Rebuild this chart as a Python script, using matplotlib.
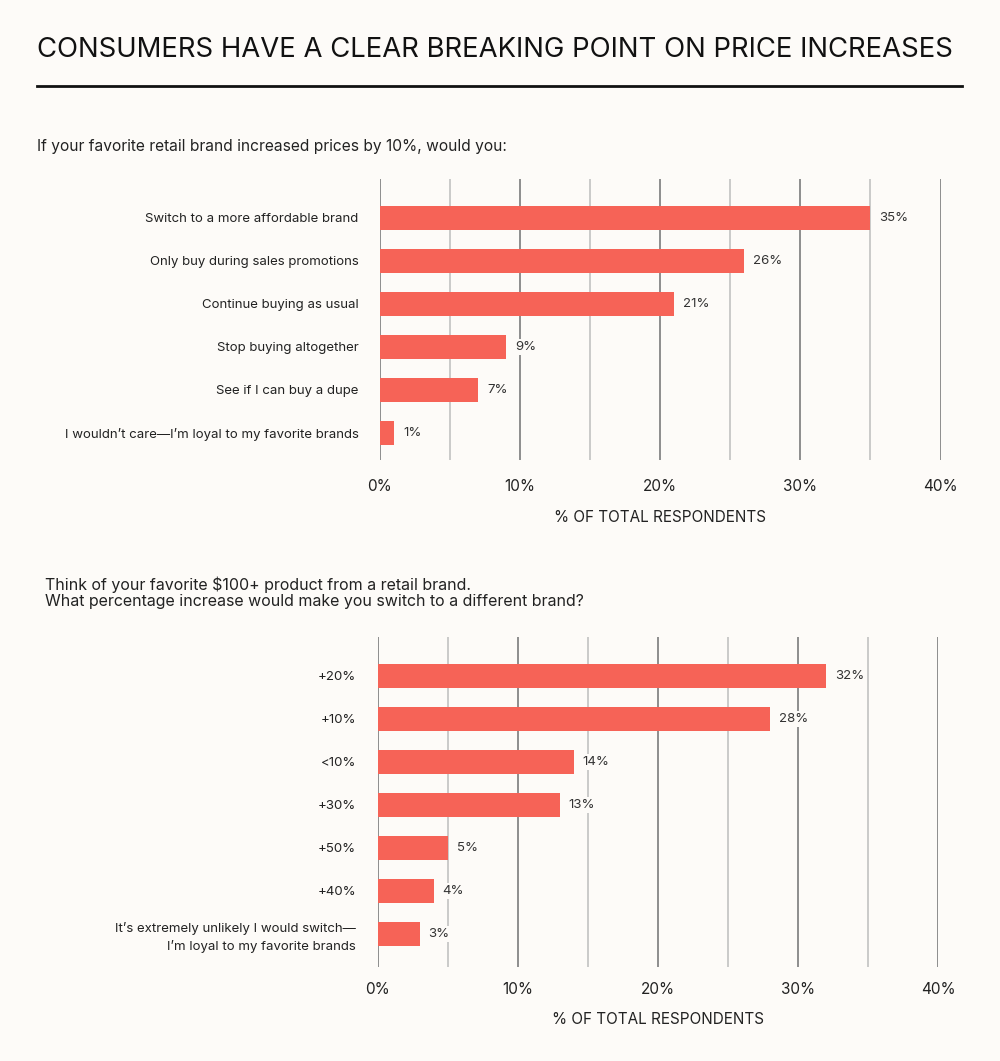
import matplotlib.pyplot as plt
from matplotlib import font_manager

# --- data -----------------------------------------------------------------
q1_labels = [
    "Switch to a more affordable brand",
    "Only buy during sales promotions",
    "Continue buying as usual",
    "Stop buying altogether",
    "See if I can buy a dupe",
    "I wouldn\u2019t care\u2014I\u2019m loyal to my favorite brands",
]
q1_values = [35, 26, 21, 9, 7, 1]

q2_labels = [
    "+20%",
    "+10%",
    "<10%",
    "+30%",
    "+50%",
    "+40%",
    "It\u2019s extremely unlikely I would switch\u2014\nI\u2019m loyal to my favorite brands",
]
q2_values = [32, 28, 14, 13, 5, 4, 3]

x_ticks = [0, 10, 20, 30, 40]
x_minor = [5, 15, 25, 35]

TITLE = "CONSUMERS HAVE A CLEAR BREAKING POINT ON PRICE INCREASES"
Q1 = "If your favorite retail brand increased prices by 10%, would you:"
Q2 = ("Think of your favorite $100+ product from a retail brand.\n"
      "What percentage increase would make you switch to a different brand?")
XLABEL = "% OF TOTAL RESPONDENTS"

# --- style ----------------------------------------------------------------
BG = "#FDFBF8"
BAR = "#F66357"
TXT = "#222222"
DARK_GRID = "#858585"
LIGHT_GRID = "#c6c6c6"

installed = {f.name for f in font_manager.fontManager.ttflist}
FONT = "Inter" if "Inter" in installed else "DejaVu Sans"
plt.rcParams["font.family"] = [FONT, "DejaVu Sans"]

fig = plt.figure(figsize=(10, 10.61), dpi=100, facecolor=BG)
H = 1061


def px_y(y):
    return 1 - y / H


def bar_panel(rect, labels, values, top_pad, bottom_pad, tick_pad):
    ax = fig.add_axes(rect)
    ax.set_facecolor(BG)
    ypos = list(range(len(values)))
    ax.barh(ypos, values, height=0.56, color=BAR, zorder=3)
    ax.set_ylim(len(values) - 1 + bottom_pad, -top_pad)
    ax.set_xlim(0, 40)

    ax.set_xticks(x_ticks)
    ax.set_xticklabels([f"{t}%" for t in x_ticks])
    ax.set_xticks(x_minor, minor=True)
    for t in x_ticks:
        ax.axvline(t, color=DARK_GRID, lw=1.3, zorder=1)
    for t in x_minor:
        ax.axvline(t, color=LIGHT_GRID, lw=1.3, zorder=1)
    ax.tick_params(axis="x", which="both", length=0, pad=tick_pad,
                   labelsize=11, labelcolor=TXT)

    ax.set_yticks(ypos)
    ax.set_yticklabels(labels, fontsize=9.5, color=TXT, linespacing=1.5)
    ax.tick_params(axis="y", length=0, pad=15.5)

    for s in ax.spines.values():
        s.set_visible(False)

    for y, v in zip(ypos, values):
        ax.text(v + 0.65, y, f"{v}%", va="center", ha="left", fontsize=9.5,
                color="#333333", zorder=4,
                bbox=dict(facecolor=BG, edgecolor="none", pad=1.5))
    return ax


# title + rule
fig.text(0.037, px_y(50), TITLE, fontsize=19.8, color="#111111",
         va="center", ha="left")
fig.add_artist(plt.Line2D([0.037, 0.962], [px_y(86)] * 2, color="#111111",
                          lw=2, transform=fig.transFigure))

# first chart
fig.text(0.037, px_y(146), Q1, fontsize=11.2, color=TXT, va="center")
ax1 = bar_panel([0.380, px_y(460), 0.5605, (460 - 179) / H],
                q1_labels, q1_values, top_pad=0.907, bottom_pad=0.63,
                tick_pad=14)
fig.text(0.66, px_y(517), XLABEL, fontsize=11, color=TXT,
         ha="center", va="center")

# second chart
fig.text(0.045, px_y(593), Q2, fontsize=11.5, color=TXT, va="center",
         linespacing=1.1)
ax2 = bar_panel([0.3775, px_y(967), 0.5605, (967 - 637) / H],
                q2_labels, q2_values, top_pad=0.907, bottom_pad=0.77,
                tick_pad=11)
fig.text(0.658, px_y(1019), XLABEL, fontsize=11, color=TXT,
         ha="center", va="center")

fig.savefig("out.png", dpi=100, facecolor=BG)
